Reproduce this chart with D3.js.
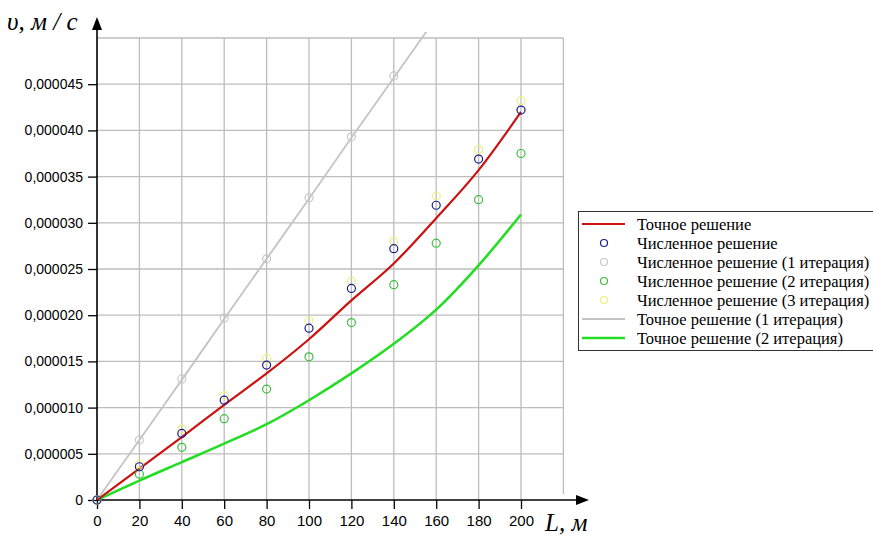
<!DOCTYPE html>
<html>

<head>
    <meta charset="utf-8">
    <script src="https://d3js.org/d3.v7.min.js"></script>
    <style>
        body { margin: 0; background: #fff; }
        .tick text { font-family: "Liberation Sans Narrow", "Arial Narrow", "Liberation Sans", sans-serif; font-size: 15px; fill: #000; }
        .yaxis .tick text { font-size: 14px; }
    </style>
</head>

<body>

    <svg id="chart"></svg>

    <script>
        // data (velocity values in 1e-6 m/s)
        var lengths = [0, 20, 40, 60, 80, 100, 120, 140, 160, 180, 200];
        var exact = [0, 3.4, 6.8, 10.3, 13.7, 17.4, 21.6, 25.6, 30.5, 35.7, 42.0];
        var numeric = [0, 3.6, 7.2, 10.8, 14.6, 18.6, 22.9, 27.2, 31.9, 36.9, 42.2];
        var numericIt1 = [0, 6.5, 13.1, 19.7, 26.1, 32.7, 39.3, 45.9];
        var numericIt2 = [0, 2.8, 5.7, 8.8, 12.0, 15.5, 19.2, 23.3, 27.8, 32.5, 37.5];
        var numericIt3 = [0, 3.9, 7.7, 11.3, 15.3, 19.4, 23.7, 28.0, 32.9, 37.9, 43.2];
        var exactIt1 = [0, 6.5, 13.0, 19.6, 26.1, 32.6, 39.2, 45.7, 52.2, 58.7, 65.2];
        var exactIt2 = [0, 2.1, 4.1, 6.1, 8.2, 10.8, 13.7, 16.9, 20.6, 25.4, 30.9];

        var xTicks = [0, 20, 40, 60, 80, 100, 120, 140, 160, 180, 200];
        var yTicks = [0, 5, 10, 15, 20, 25, 30, 35, 40, 45];
        var xGrid = [20, 40, 60, 80, 100, 120, 140, 160, 180, 200, 220];
        var yGrid = [5, 10, 15, 20, 25, 30, 35, 40, 45, 50];

        var legendNames = ["Точное решение", "Численное решение", "Численное решение (1 итерация)",
            "Численное решение (2 итерация)", "Численное решение (3 итерация)",
            "Точное решение (1 итерация)", "Точное решение (2 итерация)"];

        var width = 873,
            height = 536;

        var svg = d3.select("#chart")
            .attr("width", width)
            .attr("height", height)
            .style("display", "block");

        var x = d3.scaleLinear().domain([0, 220]).range([97, 563.4]);
        var y = d3.scaleLinear().domain([0, 50]).range([500, 38]);

        var comma = d3.formatLocale({ decimal: ",", thousands: " ", grouping: [3], currency: ["", ""] }).format(".6f");

        // grid
        svg.append("g")
            .selectAll("line")
            .data(xGrid)
            .join("line")
            .attr("x1", d => x(d)).attr("x2", d => x(d))
            .attr("y1", y(50)).attr("y2", d => d == 220 ? y(0) - 6 : y(0))
            .style("stroke", "#bdbdbd")
            .style("stroke-width", 1.3)

        svg.append("g")
            .selectAll("line")
            .data(yGrid)
            .join("line")
            .attr("x1", x(0)).attr("x2", x(220))
            .attr("y1", d => y(d)).attr("y2", d => y(d))
            .style("stroke", "#bdbdbd")
            .style("stroke-width", 1.3)

        // axes
        var xAxis = svg.append("g")
            .attr("transform", "translate(0," + y(0) + ")")
            .call(d3.axisBottom(x).tickValues(xTicks).tickSize(9).tickPadding(6));
        xAxis.select(".domain").remove();
        xAxis.selectAll(".tick line").style("stroke-width", 1.3);

        var yAxis = svg.append("g")
            .attr("class", "yaxis")
            .attr("transform", "translate(" + x(0) + ",0)")
            .call(d3.axisLeft(y).tickValues(yTicks).tickSize(9).tickPadding(5)
                .tickFormat(d => d == 0 ? "0" : comma(d * 1e-6)));
        yAxis.select(".domain").remove();
        yAxis.selectAll(".tick line").style("stroke-width", 1.3);

        svg.append("line")
            .attr("x1", x(0)).attr("x2", 580)
            .attr("y1", y(0)).attr("y2", y(0))
            .style("stroke", "#000").style("stroke-width", 1.6)
        svg.append("path")
            .attr("d", "M576," + (y(0) - 5) + "L589," + y(0) + "L576," + (y(0) + 5) + "Z")
            .attr("fill", "#000")

        svg.append("line")
            .attr("x1", x(0)).attr("x2", x(0))
            .attr("y1", y(0)).attr("y2", 25)
            .style("stroke", "#000").style("stroke-width", 1.6)
        svg.append("path")
            .attr("d", "M" + (x(0) - 5) + ",30L" + x(0) + ",17L" + (x(0) + 5) + ",30Z")
            .attr("fill", "#000")

        // axis titles
        svg.append("text")
            .attr("x", 7).attr("y", 30)
            .text("υ, м / с")
            .style("font-family", "'Liberation Serif', 'Times New Roman', 'DejaVu Serif', serif")
            .style("font-style", "italic")
            .style("font-size", "25px")

        svg.append("text")
            .attr("x", 545).attr("y", 531)
            .text("L, м")
            .style("font-family", "'Liberation Serif', 'Times New Roman', 'DejaVu Serif', serif")
            .style("font-style", "italic")
            .style("font-size", "25px")

        // lines
        svg.append("clipPath").attr("id", "plot")
            .append("rect").attr("x", x(0)).attr("y", 32).attr("width", x(220) - x(0)).attr("height", y(0) - 32);

        var line = d3.line()
            .x((d, i) => x(lengths[i]))
            .y(d => y(d))
            .curve(d3.curveMonotoneX);

        var lines = [
            { values: exactIt1, color: "#c4c4c4", w: 1.8 },
            { values: exactIt2, color: "#22dd22", w: 2.5 },
            { values: exact, color: "#cc1111", w: 2.2 }
        ];

        svg.append("g")
            .attr("clip-path", "url(#plot)")
            .selectAll("path")
            .data(lines)
            .join("path")
            .attr("d", d => line(d.values))
            .attr("fill", "none")
            .style("stroke", d => d.color)
            .style("stroke-width", d => d.w)

        // points
        var points = [
            { values: numericIt1, color: "#c8c8c8" },
            { values: numericIt2, color: "#3cbf3c" },
            { values: numericIt3, color: "#f0ee80" },
            { values: numeric, color: "#1c1c8c" }
        ];

        svg.append("g")
            .selectAll("g")
            .data(points)
            .join("g")
            .style("stroke", d => d.color)
            .selectAll("circle")
            .data(d => d.values)
            .join("circle")
            .attr("cx", (d, i) => x(lengths[i]))
            .attr("cy", d => y(d))
            .attr("r", 4)
            .attr("fill", "none")
            .style("stroke-width", 1.2)

        // legend
        var legend = svg.append("g");
        legend.append("rect")
            .attr("x", 578.5).attr("y", 211.5)
            .attr("width", 310).attr("height", 139)
            .attr("fill", "#fff")
            .style("stroke", "#333")

        var symbols = [
            { type: "line", color: "#cc1111", w: 2.2 },
            { type: "circle", color: "#1c1c8c" },
            { type: "circle", color: "#c8c8c8" },
            { type: "circle", color: "#3cbf3c" },
            { type: "circle", color: "#f0ee80" },
            { type: "line", color: "#c4c4c4", w: 1.8 },
            { type: "line", color: "#22dd22", w: 2.5 }
        ];

        var rows = legend.selectAll("g.row")
            .data(legendNames)
            .join("g")
            .attr("class", "row")
            .attr("transform", (d, i) => "translate(0," + (224 + i * 19) + ")");

        rows.each(function (d, i) {
            var g = d3.select(this);
            var s = symbols[i];
            if (s.type == "line") {
                g.append("line")
                    .attr("x1", 582).attr("x2", 625)
                    .style("stroke", s.color)
                    .style("stroke-width", s.w);
            } else {
                g.append("circle")
                    .attr("cx", 604).attr("r", 3.5)
                    .attr("fill", "none")
                    .style("stroke", s.color)
                    .style("stroke-width", 1.2);
            }
            g.append("text")
                .attr("x", 637).attr("y", 5.5)
                .text(d)
                .style("font-family", "'Liberation Serif', 'Times New Roman', 'DejaVu Serif', serif")
                .style("font-size", "16.5px");
        });

    </script>
</body>

</html>
